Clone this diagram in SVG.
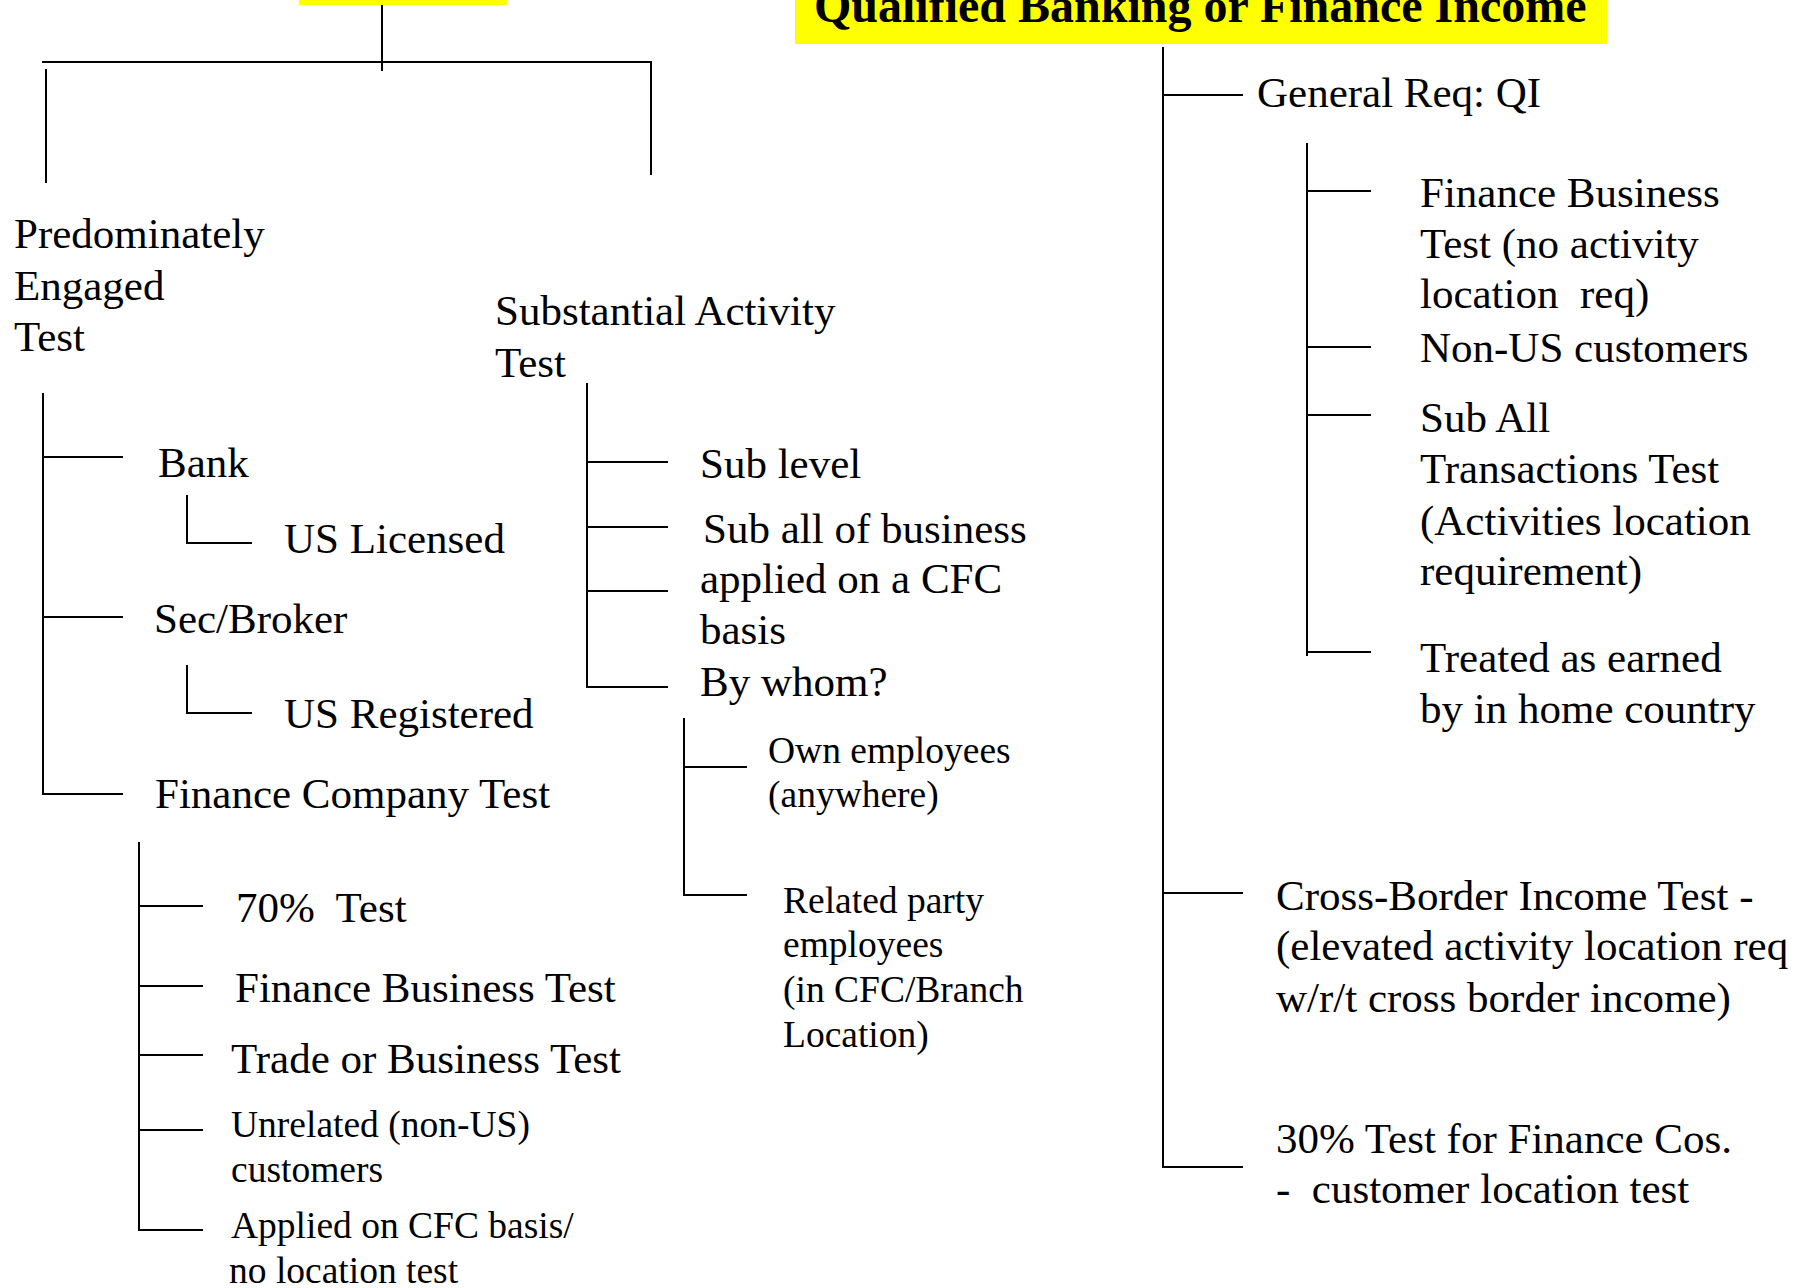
<svg xmlns="http://www.w3.org/2000/svg" width="1806" height="1288" viewBox="0 0 1806 1288">
  <style>
    text { font-family: "Liberation Serif", "Times New Roman", serif; fill: #000; }
    .big { font-size: 43px; }
    .small { font-size: 37.5px; }
    .title { font-size: 48px; font-weight: bold; }
    .conn line { stroke: #000; stroke-width: 2; fill: none; }
    .hl { fill: #ffff00; }
  </style>
  <rect width="1806" height="1288" fill="#fff"/>

  <!-- headers -->
  <g id="header-left">
    <rect class="hl" x="299" y="0" width="208" height="5"/>
  </g>
  <g id="header-right">
    <rect class="hl" x="795" y="0" width="812" height="44"/>
    <text class="title" x="814" y="22">Qualified Banking or Finance Income</text>
  </g>

  <!-- connectors -->
  <g id="connectors" class="conn">
    <!-- top-left split -->
    <line x1="382" y1="5" x2="382" y2="71"/>
    <line x1="42" y1="62" x2="652" y2="62"/>
    <line x1="46" y1="69" x2="46" y2="183"/>
    <line x1="651" y1="62" x2="651" y2="175"/>

    <!-- predominately engaged branch -->
    <line x1="43" y1="393" x2="43" y2="795"/>
    <line x1="43" y1="457" x2="123" y2="457"/>
    <line x1="43" y1="617" x2="123" y2="617"/>
    <line x1="43" y1="794" x2="123" y2="794"/>
    <line x1="187" y1="495" x2="187" y2="544"/>
    <line x1="187" y1="543" x2="252" y2="543"/>
    <line x1="187" y1="665" x2="187" y2="714"/>
    <line x1="187" y1="713" x2="252" y2="713"/>

    <!-- finance company test -->
    <line x1="139" y1="842" x2="139" y2="1231"/>
    <line x1="139" y1="906" x2="203" y2="906"/>
    <line x1="139" y1="986" x2="203" y2="986"/>
    <line x1="139" y1="1055" x2="203" y2="1055"/>
    <line x1="139" y1="1130" x2="203" y2="1130"/>
    <line x1="139" y1="1230" x2="203" y2="1230"/>

    <!-- substantial activity branch -->
    <line x1="587" y1="383" x2="587" y2="688"/>
    <line x1="587" y1="462" x2="668" y2="462"/>
    <line x1="587" y1="527" x2="668" y2="527"/>
    <line x1="587" y1="591" x2="668" y2="591"/>
    <line x1="587" y1="687" x2="668" y2="687"/>
    <line x1="684" y1="718" x2="684" y2="896"/>
    <line x1="684" y1="767" x2="747" y2="767"/>
    <line x1="684" y1="895" x2="747" y2="895"/>

    <!-- qualified income branch -->
    <line x1="1163" y1="47" x2="1163" y2="1168"/>
    <line x1="1163" y1="95" x2="1243" y2="95"/>
    <line x1="1163" y1="893" x2="1243" y2="893"/>
    <line x1="1163" y1="1167" x2="1243" y2="1167"/>
    <line x1="1307" y1="143" x2="1307" y2="656"/>
    <line x1="1307" y1="191" x2="1371" y2="191"/>
    <line x1="1307" y1="347" x2="1371" y2="347"/>
    <line x1="1307" y1="415" x2="1371" y2="415"/>
    <line x1="1307" y1="652" x2="1371" y2="652"/>
  </g>

  <!-- left column nodes -->
  <g id="predominately-engaged">
    <text class="big" x="14" y="248">Predominately</text>
    <text class="big" x="14" y="300">Engaged</text>
    <text class="big" x="14" y="351">Test</text>
  </g>
  <g id="bank"><text class="big" x="158" y="477">Bank</text></g>
  <g id="us-licensed"><text class="big" x="284" y="553">US Licensed</text></g>
  <g id="sec-broker"><text class="big" x="154" y="633">Sec/Broker</text></g>
  <g id="us-registered"><text class="big" x="284" y="728">US Registered</text></g>
  <g id="finance-company-test"><text class="big" x="155" y="808">Finance Company Test</text></g>
  <g id="seventy-test"><text class="big" x="236" y="922" xml:space="preserve">70%  Test</text></g>
  <g id="finance-business-test"><text class="big" x="235" y="1002">Finance Business Test</text></g>
  <g id="trade-business-test"><text class="big" x="231" y="1073">Trade or Business Test</text></g>
  <g id="unrelated-customers">
    <text class="small" x="231" y="1137">Unrelated (non-US)</text>
    <text class="small" x="231" y="1182">customers</text>
  </g>
  <g id="cfc-basis">
    <text class="small" x="231" y="1238">Applied on CFC basis/</text>
    <text class="small" x="229" y="1283">no location test</text>
  </g>

  <!-- middle column nodes -->
  <g id="substantial-activity">
    <text class="big" x="495" y="325">Substantial Activity</text>
    <text class="big" x="495" y="377">Test</text>
  </g>
  <g id="sub-level"><text class="big" x="700" y="478">Sub level</text></g>
  <g id="sub-all-business">
    <text class="big" x="703" y="543">Sub all of business</text>
    <text class="big" x="700" y="593">applied on a CFC</text>
    <text class="big" x="700" y="644">basis</text>
  </g>
  <g id="by-whom"><text class="big" x="700" y="696">By whom?</text></g>
  <g id="own-employees">
    <text class="small" x="768" y="763">Own employees</text>
    <text class="small" x="768" y="807">(anywhere)</text>
  </g>
  <g id="related-party">
    <text class="small" x="783" y="913">Related party</text>
    <text class="small" x="783" y="957">employees</text>
    <text class="small" x="783" y="1002">(in CFC/Branch</text>
    <text class="small" x="783" y="1047">Location)</text>
  </g>

  <!-- right column nodes -->
  <g id="general-req"><text class="big" x="1257" y="107">General Req: QI</text></g>
  <g id="qi-finance-business">
    <text class="big" x="1420" y="207">Finance Business</text>
    <text class="big" x="1420" y="258">Test (no activity</text>
    <text class="big" x="1420" y="308" xml:space="preserve">location  req)</text>
  </g>
  <g id="non-us-customers"><text class="big" x="1420" y="362">Non-US customers</text></g>
  <g id="sub-all-transactions">
    <text class="big" x="1420" y="432">Sub All</text>
    <text class="big" x="1420" y="483">Transactions Test</text>
    <text class="big" x="1420" y="535">(Activities location</text>
    <text class="big" x="1420" y="585">requirement)</text>
  </g>
  <g id="treated-as-earned">
    <text class="big" x="1420" y="672">Treated as earned</text>
    <text class="big" x="1420" y="723">by in home country</text>
  </g>
  <g id="cross-border">
    <text class="big" x="1276" y="910">Cross-Border Income Test -</text>
    <text class="big" x="1276" y="960">(elevated activity location req</text>
    <text class="big" x="1276" y="1012">w/r/t cross border income)</text>
  </g>
  <g id="thirty-test">
    <text class="big" x="1276" y="1153">30% Test for Finance Cos.</text>
    <text class="big" x="1276" y="1203" xml:space="preserve">-  customer location test</text>
  </g>
</svg>
